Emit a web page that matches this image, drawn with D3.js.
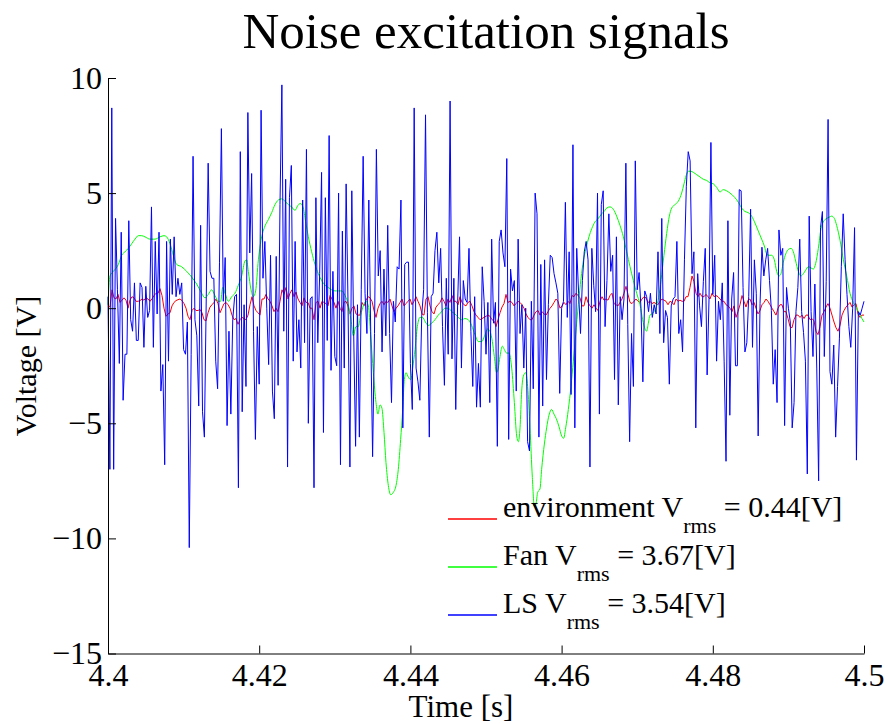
<!DOCTYPE html>
<html>
<head>
<meta charset="utf-8">
<script src="https://cdn.jsdelivr.net/npm/d3@7"></script>
<style>
  body { margin: 0; background: #fff; }
  svg text { font-family: "Liberation Serif", "Times New Roman", Times, serif; fill: #000; }
</style>
</head>
<body>
<svg id="chart" width="890" height="724"></svg>
<script>
// Time window shown [s]
const tStart = 4.4;
const tEnd = 4.5;

// Axis ticks and their labels
const xTicks = [4.4, 4.42, 4.44, 4.46, 4.48, 4.5];
const xTickLabels = ["4.4", "4.42", "4.44", "4.46", "4.48", "4.5"];
const yTicks = [10, 5, 0, -5, -10, -15];
const yTickLabels = ["10", "5", "0", "\u22125", "\u221210", "\u221215"];

// Loudspeaker (LS) excitation, sampled at 4 kHz over the window [V]
const lsVolts = [
  0.5, -7.0, 8.7, -7.0, 3.9, 0.8, -2.4, 3.3, -4.0, -2.0,
  -2.0, 3.8, -0.5, -1.0, 1.1, -1.4, -1.4, 1.1, 0.9, -1.7,
  0.95, -0.4, -0.1, 4.4, -1.7, 2.9, -0.25, 3.3, -3.6, -2.45,
  -6.8, 2.9, -2.3, 3.0, 0.6, 3.1, 0.5, 1.3, 0.6, 1.1,
  -1.8, -2.0, -0.6, -10.4, -2.0, 6.6, -0.5, -1.2, -4.25, 3.6,
  -4.5, -5.6, 0.5, 6.3, 1.6, 1.3, 1.3, -2.3, -3.5, 2.0,
  7.8, 0.3, 2.2, -5.1, -1.0, -4.6, -0.5, 0.5, 0.6, -7.8,
  6.8, -4.5, 0.15, -3.4, 8.5, 2.4, 5.85, -1.0, -5.7, -0.8,
  -3.3, 8.6, 1.3, 2.9, 0.0, -2.45, 2.3, -3.6, -4.8, 2.25,
  -3.35, 4.5, 9.7, -1.0, 5.6, -6.9, 4.8, 6.2, -2.3, 2.9,
  -1.9, -0.5, -2.6, 4.7, -1.5, 6.9, -5.0, 0.4, 0.5, -7.8,
  4.8, -1.5, 1.5, 5.9, -5.4, 4.8, -1.4, 7.5, -2.7, 1.6,
  -2.1, -2.5, 5.0, -6.8, 3.35, -2.6, 5.4, 0.2, -6.9, 5.1,
  -1.1, -6.0, 0.15, -5.6, 0.8, 6.6, 0.65, -1.1, 4.7, -1.0,
  -6.45, -1.1, 6.9, 1.4, 2.5, -1.9, 1.7, -1.2, 3.6, -1.1,
  -4.1, 0.3, -0.6, 1.8, 1.7, 4.7, -5.2, 1.9, 2.0, 2.0,
  -2.4, -4.4, 8.7, -2.6, -3.2, -4.0, -0.3, 0.8, 8.4, -0.2,
  -5.6, 0.5, 0.65, 2.5, 3.3, 1.1, 2.6, -0.8, -3.35, 1.3,
  -2.0, 9.0, -2.2, 1.3, -4.4, 0.25, 3.1, -2.6, 1.2, 0.4,
  0.25, 2.6, -1.0, -3.4, 0.5, -4.3, -2.4, -4.3, 1.8, 0.3,
  -2.0, 0.25, -4.1, 3.0, -0.65, 0.25, -6.0, 2.9, 3.4, 2.4,
  1.8, 6.5, -5.7, 1.7, 0.75, 1.2, -3.6, 3.0, -1.1, 0.15,
  -2.6, 0.0, -5.8, -6.2, 0.3, -3.5, 5.0, 4.1, -5.6, 1.9,
  -4.25, 2.1, -3.1, 0.15, 2.3, 2.2, 1.5, 1.1, 0.65, -3.7,
  0.0, 0.3, 4.6, -0.4, 2.45, -3.75, 7.1, -5.2, 2.6, 0.65,
  -1.1, 1.2, 2.45, 2.9, 2.1, -6.9, 2.6, 1.0, -0.15, 5.0,
  -4.6, 4.5, 5.1, -0.8, 1.2, 4.1, 1.6, 2.3, -3.1, 3.1,
  -4.2, 0.5, -0.5, 0.4, 6.3, -0.7, -5.8, -1.1, -3.4, 6.4,
  0.8, 1.55, 0.0, -3.2, 0.75, 0.5, -0.15, 0.65, -0.4, 0.15,
  -0.25, 2.45, -1.1, 3.9, -1.5, -0.1, -0.4, -3.3, 0.1, 0.4,
  0.5, 2.9, -1.1, -0.5, -1.9, 2.1, 5.3, 6.8, 6.4, 1.5,
  2.45, -5.2, 1.5, 0.1, -0.8, 1.15, 2.6, -2.9, 0.4, 7.2,
  0.6, 2.3, -2.3, 0.3, -0.5, 1.1, -2.3, -6.65, 3.8, -4.65,
  0.4, 1.55, -2.5, -2.5, 5.15, 5.1, 0.9, -1.9, -1.5, 0.5,
  4.3, -1.7, 2.1, 0.65, -5.55, 0.2, 2.65, 1.4, 2.1, 2.6,
  1.2, -0.1, -3.3, -1.8, -4.1, 3.4, 2.3, 2.6, -5.1, 0.9,
  0.0, -0.6, -5.2, -4.1, -0.15, 0.9, 3.0, -0.15, -1.05, -2.3,
  -7.2, 4.0, -0.15, -2.1, 1.05, -2.6, -7.5, 3.5, 4.2, -2.1,
  1.15, 8.2, -2.75, -3.3, -1.6, -5.6, -3.4, -1.3, 1.8, 4.1,
  2.1, 0.6, -0.8, -1.7, 0.0, 3.5, -6.6, -0.15, -0.3, 0.0,
  0.3
];

// Fan excitation: time offsets from the window start [ms] and voltages [V]
const fanOffsetMs = [
  0.00, 0.26, 0.71, 1.37, 1.81, 2.25, 2.69, 3.13, 3.57, 4.01,
  4.45, 4.89, 5.56, 6.22, 6.88, 7.41, 7.76, 8.20, 8.64, 9.08,
  9.74, 10.41, 11.07, 11.73, 12.39, 12.83, 13.27, 13.71, 14.15, 14.59,
  14.90, 15.17, 15.48, 15.92, 16.36, 16.80, 17.24, 17.68, 18.12, 18.34,
  18.56, 18.92, 19.22, 19.53, 19.89, 20.24, 20.68, 21.21, 21.65, 22.09,
  22.53, 22.97, 23.41, 23.85, 24.29, 24.74, 25.09, 25.44, 25.79, 26.15,
  26.50, 26.94, 27.38, 27.82, 28.26, 28.70, 29.14, 29.59, 30.03, 30.47,
  30.91, 31.35, 31.79, 32.14, 32.45, 32.80, 33.11, 33.42, 33.77, 34.13,
  34.44, 34.74, 35.10, 35.45, 35.71, 35.98, 36.24, 36.51, 36.77, 37.08,
  37.39, 37.74, 38.10, 38.40, 38.71, 38.98, 39.20, 39.42, 39.73, 40.04,
  40.30, 40.61, 40.92, 41.27, 41.62, 41.98, 42.37, 42.81, 43.25, 43.69,
  44.14, 44.58, 45.02, 45.46, 45.90, 46.34, 46.78, 47.22, 47.66, 48.10,
  48.54, 48.99, 49.43, 49.87, 50.22, 50.53, 50.84, 51.10, 51.41, 51.63,
  51.85, 52.16, 52.43, 52.73, 53.04, 53.40, 53.75, 54.06, 54.28, 54.50,
  54.72, 54.94, 55.25, 55.51, 55.82, 56.13, 56.39, 56.61, 56.83, 57.14,
  57.36, 57.72, 58.02, 58.33, 58.69, 58.99, 59.30, 59.66, 60.01, 60.27,
  60.54, 60.89, 61.24, 61.55, 61.86, 62.21, 62.57, 62.87, 63.23, 63.62,
  63.98, 64.42, 64.86, 65.30, 65.74, 65.96, 66.40, 66.84, 67.28, 67.72,
  68.17, 68.61, 69.05, 69.49, 69.93, 70.37, 70.72, 71.03, 71.25, 71.47,
  71.69, 71.91, 72.22, 72.57, 72.93, 73.24, 73.54, 73.90, 74.25, 74.56,
  75.00, 75.44, 75.88, 76.19, 76.46, 76.76, 77.07, 77.43, 77.87, 78.31,
  78.75, 79.19, 79.63, 80.07, 80.51, 80.95, 81.39, 81.83, 82.28, 82.94,
  83.38, 83.82, 84.26, 84.70, 85.14, 85.58, 86.02, 86.46, 86.82, 87.13,
  87.43, 87.79, 88.14, 88.45, 88.76, 89.02, 89.33, 89.64, 89.99, 90.34,
  90.65, 90.96, 91.31, 91.67, 91.98, 92.28, 92.64, 92.99, 93.30, 93.61,
  93.96, 94.31, 94.62, 95.06, 95.37, 95.72, 96.08, 96.38, 96.83, 97.27,
  97.71, 98.15, 98.59, 99.03, 99.47, 100.00
];
const fanVolts = [
  0.15, 1.4, 1.6, 1.9, 2.3, 2.45, 2.6, 2.8, 3.0, 3.15,
  3.15, 3.1, 3.0, 3.0, 3.1, 3.15, 3.1, 2.8, 2.3, 1.9,
  1.8, 1.6, 1.35, 1.05, 0.65, 0.45, 0.6, 0.8, 0.55, 0.3,
  0.3, 0.9, 0.65, 0.3, 0.5, 0.65, 1.0, 1.4, 2.05, 2.1,
  1.6, 0.8, 0.5, 0.75, 2.1, 2.95, 3.5, 3.85, 4.15, 4.5,
  4.7, 4.75, 4.65, 4.5, 4.4, 4.25, 4.45, 4.55, 4.4, 3.75,
  3.1, 2.45, 1.9, 1.5, 1.2, 1.0, 0.9, 0.8, 0.75, 0.75,
  0.75, 0.55, 0.15, -0.5, -1.2, -0.8, -0.8, -0.3, 0.1, 0.3,
  0.1, -1.15, -2.8, -4.1, -4.6, -4.2, -4.35, -5.4, -6.7, -7.7,
  -8.1, -8.0, -7.7, -7.0, -5.7, -4.4, -3.1, -2.8, -3.0, -3.1,
  -2.6, -1.8, -0.8, -0.4, -0.4, -0.6, -0.75, -0.65, -0.5, -0.3,
  -0.15, 0.0, 0.0, -0.15, -0.25, -0.4, -0.5, -0.45, -0.5, -0.75,
  -1.15, -1.45, -1.45, -1.15, -0.9, -1.0, -1.45, -2.1, -2.8, -2.6,
  -2.1, -1.65, -1.8, -1.95, -1.95, -2.6, -4.1, -5.55, -5.8, -5.2,
  -3.6, -2.95, -2.8, -3.4, -5.2, -7.35, -8.6, -8.5, -8.0, -7.85,
  -7.0, -5.9, -5.2, -4.65, -4.4, -4.6, -4.8, -5.15, -5.55, -5.65,
  -5.2, -4.4, -3.4, -2.3, -1.15, 0.15, 1.3, 2.05, 2.6, 3.1,
  3.45, 3.75, 3.9, 4.1, 4.25, 4.35, 4.4, 4.3, 4.0, 3.6,
  3.1, 2.45, 1.8, 1.2, 0.65, 0.15, -0.5, -0.9, -1.0, -0.65,
  -0.3, -0.25, -0.15, 0.1, 0.65, 1.45, 2.3, 3.25, 4.0, 4.35,
  4.5, 4.65, 5.0, 5.4, 5.75, 5.95, 5.95, 5.9, 5.8, 5.7,
  5.6, 5.55, 5.45, 5.4, 5.25, 5.05, 5.15, 5.1, 5.0, 4.8,
  4.6, 4.35, 4.2, 4.15, 4.0, 3.7, 3.35, 3.0, 2.7, 2.35,
  2.3, 2.3, 2.1, 1.6, 1.4, 1.5, 2.0, 2.35, 2.55, 2.6,
  2.45, 2.05, 1.6, 1.4, 1.5, 1.65, 1.8, 1.75, 1.7, 1.95,
  2.6, 3.45, 3.75, 3.9, 3.95, 4.0, 3.9, 3.6, 2.95, 2.1,
  1.4, 0.65, 0.25, 0.0, -0.3, -0.6
];

// Environment noise, evenly sampled across the window [V]
const envVolts = [
  0.1, 0.05, 0.8, 0.45, 0.4, 0.6, 0.25, 0.35, 0.45, 0.35,
  0.0, 0.35, 0.5, 0.45, 0.3, 0.3, 0.33, 0.4, 0.35, 0.45,
  0.4, 0.3, 0.4, 0.55, 0.65, 0.65, 0.85, 0.55, 0.0, -0.35,
  -0.25, -0.2, 0.1, 0.25, 0.33, 0.37, 0.4, 0.33, 0.2, 0.0,
  -0.35, -0.5, -0.1, 0.0, -0.1, -0.1, -0.05, -0.2, -0.5, -0.55,
  -0.2, 0.05, 0.15, 0.25, 0.4, 0.2, -0.2, 0.0, 0.2, 0.25,
  0.15, 0.0, -0.3,
  -0.5, -0.45, -0.7, -0.5, -0.4, -0.45, -0.5, -0.3, 0.15, 0.5,
  0.1, -0.1, -0.2, -0.3, 0.4, 0.4, 0.6, 0.4, 0.3, 0.1,
  -0.15, 0.0, -0.15, 0.3, 0.8, 0.6, 0.9, 0.4, 0.65, 0.8,
  0.5, 0.7, 0.4, 0.25, 0.1, 0.45, 0.25, 0.25, 0.0, 0.0,
  -0.5, 0.25, 0.3, 0.0, 0.3, 0.25, 0.2, 0.1, 0.55, 0.4,
  0.25, 0.0, 0.3, 0.0, -0.15, 0.25, 0.3, 0.1, -0.25, 0.0,
  0.1,
  -0.25, -0.3, -0.3, 0.25, 0.1, 0.35, 0.5, 0.45, 0.3, -0.1,
  -0.4, 0.0, 0.2, 0.3, 0.15, 0.3, 0.25, 0.4, 0.1, -0.15,
  0.0, 0.1, 0.25, 0.4, 0.1, 0.2, 0.3, 0.4, 0.15, 0.3,
  0.5, 0.3, 0.1, -0.25, -0.3, 0.4, 0.5, 0.1, -0.15, -0.25,
  0.05, 0.15, 0.25, 0.45, 0.3, 0.1, 0.4, 0.25, 0.55, 0.3,
  0.3, 0.15, 0.5, 0.25, 0.15, 0.1, 0.25, 0.3, 0.1, -0.15,
  -0.3, -0.4, -0.5,
  -0.45, -0.4, -0.35, -0.3, -0.35, -0.5, -0.55, -0.8, -0.5, -0.2,
  0.05, 0.2, 0.6, 0.25, 0.3, 0.25, 0.1, 0.2, 0.3, 0.25,
  0.15, 0.0, -0.25, -0.4, -0.5, -0.5, -0.3, -0.15, -0.1, -0.3,
  -0.15, -0.25, -0.3, -0.15, 0.0, 0.1, 0.25, 0.4, 0.3, 0.0,
  0.1, 0.25, 0.15, 0.3, 0.2, 0.55, 0.5, 0.65, 0.55, 0.45,
  0.1, 0.1, 0.5, 0.25, 0.1, 0.0, 0.15, 0.0, -0.1, 0.3,
  0.5, 0.35,
  0.4, 0.35, 0.55, 0.65, 0.2, 0.15, 0.1, 0.25, 0.4, 0.65,
  0.95, 0.6, 0.25, 0.2, 0.3, 0.4, 0.3, 0.25, 0.4, 0.5,
  0.45, 0.25, 0.3, 0.2, 0.25, 0.2, 0.15, 0.3, 0.4, 0.35,
  0.3, 0.15, 0.3, 0.25, 0.15, 0.4, 0.3, 0.35, 0.3, 0.3,
  0.5, 0.5, 0.9, 1.4, 1.15, 0.65, 0.5, 0.65, 0.5, 0.5,
  0.6, 0.5, 0.4, 0.65, 0.5, 0.55, 0.5, 0.4, 0.3, 0.3,
  0.15, 0.1, 0.0,
  -0.15, 0.1, -0.4, -0.15, 0.15, 0.55, 0.3, 0.05, 0.35, 0.4,
  0.15, 0.25, 0.0, -0.25, -0.1, 0.15, 0.25, 0.4, 0.3, 0.15,
  0.0, -0.15, -0.3, 0.0, 0.15, 0.15, -0.15, -0.15, -0.45, -0.8,
  -0.85, -0.5, -0.3, -0.3, -0.4, -0.3, -0.45, -0.3, -0.3, -0.5,
  -0.45, -0.55, -1.0, -1.15, -0.8, -0.3, -0.15, 0.05, 0.2, 0.0,
  -0.3, -0.6, -0.85, -1.0, -0.75, -0.3, -0.1, 0.05, 0.15, 0.25,
  0.05, 0.15, 0.2, -0.25, -0.4, -0.3, -0.3
];

// Legend entries: name and RMS value
const legendNames = ["environment", "Fan", "LS"];
const legendRms = ["0.44", "3.67", "3.54"];
const seriesColors = ["#ff0000", "#00ff00", "#0000ff"];

// ---- layout ----
const W = 890, H = 724;
const margin = { left: 108, right: 26, top: 78, bottom: 70.5 };
const serif = '"Liberation Serif", "Times New Roman", Times, serif';
const svg = d3.select("#chart");

const x = d3.scaleLinear().domain([tStart, tEnd]).range([margin.left, W - margin.right]);
const y = d3.scaleLinear().domain([-15, 10]).range([H - margin.bottom, margin.top]);

// Build time/value points
const evenPoints = (vals) => vals.map((v, i) => ({
  t: tStart + (tEnd - tStart) * i / (vals.length - 1), v
}));
const envPts = evenPoints(envVolts);
const lsPts = evenPoints(lsVolts);
const fanPts = fanOffsetMs.map((ms, i) => ({ t: tStart + ms / 1000, v: fanVolts[i] }));

const line = d3.line().x(d => x(d.t)).y(d => y(d.v));
const smoothLine = d3.line().x(d => x(d.t)).y(d => y(d.v)).curve(d3.curveMonotoneX);

const plot = svg.append("g");
plot.append("path").datum(envPts).attr("d", line)
  .attr("fill", "none").attr("stroke", seriesColors[0]).attr("stroke-width", 1);
plot.append("path").datum(fanPts).attr("d", smoothLine)
  .attr("fill", "none").attr("stroke", seriesColors[1]).attr("stroke-width", 1);
plot.append("path").datum(lsPts).attr("d", line)
  .attr("fill", "none").attr("stroke", seriesColors[2]).attr("stroke-width", 1);

// ---- axes (ticks point inward) ----
const xAxis = d3.axisBottom(x).tickValues(xTicks)
  .tickFormat((d, i) => xTickLabels[i]).tickSizeInner(-8).tickSizeOuter(0).tickPadding(10);
const yAxis = d3.axisLeft(y).tickValues(yTicks)
  .tickFormat((d, i) => yTickLabels[i]).tickSizeInner(-8).tickSizeOuter(0).tickPadding(6);

const gx = svg.append("g").attr("transform", `translate(0,${H - margin.bottom})`).call(xAxis);
const gy = svg.append("g").attr("transform", `translate(${margin.left},0)`).call(yAxis);
[gx, gy].forEach(g => {
  g.attr("font-family", null).attr("font-size", null);
  g.selectAll("path.domain").attr("stroke", "#000").attr("stroke-width", 1);
  g.selectAll(".tick line").attr("stroke", "#000").attr("stroke-width", 1);
  g.selectAll(".tick text")
    .style("font-family", serif).style("font-size", "32px").attr("fill", "#000");
});

// ---- titles ----
svg.append("text").attr("x", 486).attr("y", 48).attr("text-anchor", "middle")
  .style("font-size", "51px").text("Noise excitation signals");
svg.append("text").attr("x", 461).attr("y", 717).attr("text-anchor", "middle")
  .style("font-size", "31px").text("Time [s]");
svg.append("text").attr("transform", "translate(36,366) rotate(-90)")
  .attr("text-anchor", "middle").style("font-size", "30px").text("Voltage [V]");

// ---- legend ----
const legend = svg.append("g");
legendNames.forEach((name, i) => {
  const ly = 519 + i * 48;
  legend.append("line").attr("x1", 448).attr("x2", 497).attr("y1", ly).attr("y2", ly)
    .attr("stroke", seriesColors[i]).attr("stroke-width", 1.4);
  const t = legend.append("text").attr("x", 503).attr("y", ly - 2).style("font-size", "30px");
  t.append("tspan").text(name + " V");
  t.append("tspan").attr("dy", 16).style("font-size", "22px").text("rms");
  t.append("tspan").attr("dy", -16).style("font-size", "30px").text(" = " + legendRms[i] + "[V]");
});
</script>
</body>
</html>
